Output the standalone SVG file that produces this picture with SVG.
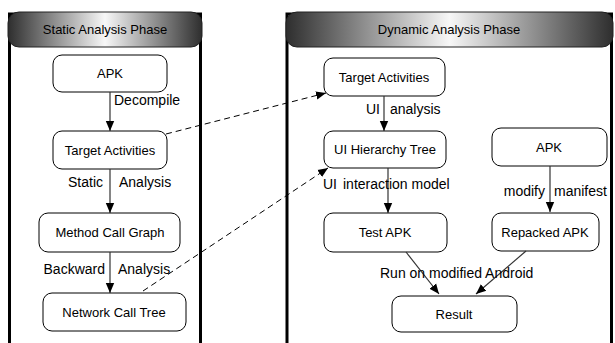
<svg xmlns="http://www.w3.org/2000/svg" width="615" height="343" viewBox="0 0 615 343">
  <defs>
    <linearGradient id="hdr" x1="0" y1="0" x2="1" y2="0">
      <stop offset="0" stop-color="#2e2e2e"/>
      <stop offset="0.5" stop-color="#f7f7f7"/>
      <stop offset="1" stop-color="#2e2e2e"/>
    </linearGradient>
    <marker id="arr" viewBox="0 0 10 10" refX="10" refY="5" markerWidth="10" markerHeight="10" markerUnits="userSpaceOnUse" orient="auto">
      <path d="M0,0.8 L10,5 L0,9.2 Z" fill="#000"/>
    </marker>
  </defs>
  <style>
    text { font-family: "Liberation Sans", Arial, Helvetica, sans-serif; fill: #000; }
    .node rect { fill: #fff; stroke: #000; stroke-width: 1; }
    .node text { font-size: 13px; text-anchor: middle; }
    .panel { fill: #fff; stroke: #000; stroke-width: 3; }
    .hdr { fill: url(#hdr); stroke: #222; stroke-width: 1; }
    .title { font-size: 13px; text-anchor: middle; }
    .edge { fill: none; stroke: #333; stroke-width: 1.2; marker-end: url(#arr); }
    .dash { fill: none; stroke: #000; stroke-width: 1; stroke-dasharray: 6 4; marker-end: url(#arr); }
    .lbl { font-size: 14px; }
    .end { text-anchor: end; }
  </style>

  <rect width="615" height="343" fill="#fff"/>

  <!-- phase panels -->
  <g id="static-phase">
    <rect class="panel" x="9.5" y="14" width="191" height="345"/>
    <rect class="hdr" x="8" y="12" width="194" height="35" rx="11"/>
    <text class="title" x="105" y="34">Static Analysis Phase</text>
  </g>
  <g id="dynamic-phase">
    <rect class="panel" x="287" y="14" width="324.5" height="345"/>
    <rect class="hdr" x="286" y="12" width="327" height="35" rx="11"/>
    <text class="title" x="449" y="34">Dynamic Analysis Phase</text>
  </g>

  <!-- static analysis nodes -->
  <g id="s-apk" class="node">
    <rect x="53" y="55" width="114" height="37" rx="9"/>
    <text x="110" y="78">APK</text>
  </g>
  <g id="s-target" class="node">
    <rect x="53" y="131" width="114" height="38" rx="9"/>
    <text x="110" y="155">Target Activities</text>
  </g>
  <g id="s-mcg" class="node">
    <rect x="39" y="213" width="141" height="39" rx="9"/>
    <text x="110" y="237">Method Call Graph</text>
  </g>
  <g id="s-nct" class="node">
    <rect x="43" y="293" width="143" height="38" rx="9"/>
    <text x="114" y="317">Network Call Tree</text>
  </g>

  <!-- dynamic analysis nodes -->
  <g id="d-target" class="node">
    <rect x="324" y="58" width="121" height="38" rx="9"/>
    <text x="384" y="82">Target Activities</text>
  </g>
  <g id="d-uitree" class="node">
    <rect x="324" y="131" width="122" height="37" rx="9"/>
    <text x="385" y="154">UI Hierarchy Tree</text>
  </g>
  <g id="d-testapk" class="node">
    <rect x="324" y="213" width="123" height="39" rx="9"/>
    <text x="385" y="237">Test APK</text>
  </g>
  <g id="d-apk" class="node">
    <rect x="492" y="128" width="115" height="38" rx="9"/>
    <text x="549" y="152">APK</text>
  </g>
  <g id="d-repacked" class="node">
    <rect x="492" y="213" width="107" height="38" rx="9"/>
    <text x="545" y="237">Repacked APK</text>
  </g>
  <g id="d-result" class="node">
    <rect x="392" y="296" width="125" height="36" rx="9"/>
    <text x="454" y="319">Result</text>
  </g>

  <!-- connectors -->
  <g id="connectors">
    <line class="edge" x1="110" y1="92" x2="110" y2="131"/>
    <line class="edge" x1="110" y1="169" x2="110" y2="213"/>
    <line class="edge" x1="110" y1="252" x2="110" y2="293"/>
    <line class="edge" x1="384" y1="96" x2="384" y2="131"/>
    <line class="edge" x1="388" y1="168" x2="388" y2="213"/>
    <line class="edge" x1="550" y1="166" x2="550" y2="212"/>
    <line class="edge" x1="406" y1="252" x2="439" y2="294"/>
    <line class="edge" x1="526" y1="251" x2="476" y2="294"/>
    <line class="dash" x1="166" y1="134" x2="326" y2="93"/>
    <line class="dash" x1="143" y1="291" x2="328" y2="168"/>

    <text class="lbl" x="114" y="105">Decompile</text>
    <text class="lbl end" x="103" y="187">Static</text>
    <text class="lbl" x="119" y="187">Analysis</text>
    <text class="lbl end" x="105" y="274">Backward</text>
    <text class="lbl" x="118" y="274">Analysis</text>
    <text class="lbl end" x="380" y="114">UI</text>
    <text class="lbl" x="390" y="114">analysis</text>
    <text class="lbl" x="323" y="189">UI</text>
    <text class="lbl" x="343" y="189">interaction model</text>
    <text class="lbl end" x="545" y="196">modify</text>
    <text class="lbl" x="554" y="196">manifest</text>
    <text class="lbl" x="380" y="278">Run on modified Android</text>
  </g>
</svg>
